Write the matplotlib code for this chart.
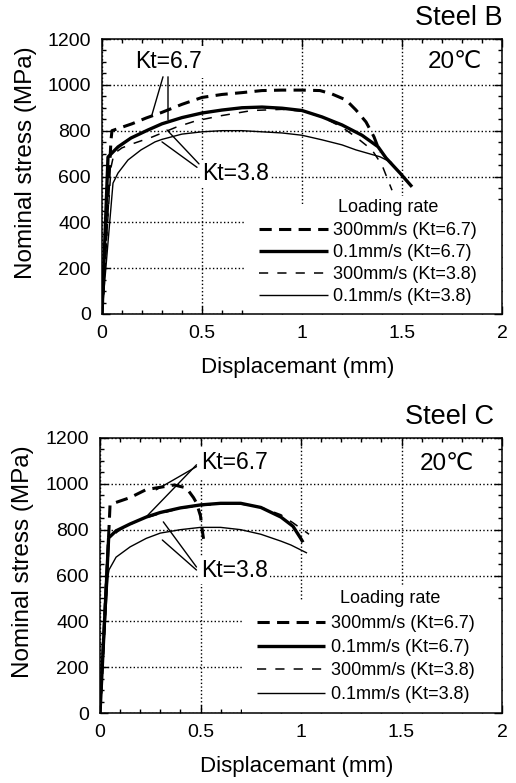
import matplotlib
matplotlib.use("Agg")
import matplotlib.pyplot as plt
from matplotlib.ticker import MultipleLocator
from matplotlib.patches import Rectangle
import numpy as np

plt.rcParams['font.family'] = ['Liberation Sans', 'DejaVu Sans']

# ---------------- data: Steel B ----------------
B_fast67_x = [0, 0.045, 0.05, 0.10, 0.15, 0.22, 0.30, 0.40, 0.50, 0.60, 0.70, 0.80, 0.90, 1.00, 1.09, 1.15, 1.22, 1.27, 1.32, 1.36, 1.39]
B_fast67_y = [0, 760, 800, 815, 830, 855, 880, 915, 945, 958, 966, 975, 977, 977, 975, 960, 934, 890, 838, 773, 705]
B_slow67_x = [0, 0.03, 0.08, 0.145, 0.23, 0.30, 0.40, 0.50, 0.60, 0.70, 0.80, 0.90, 1.00, 1.10, 1.20, 1.30, 1.38, 1.42, 1.49, 1.55]
B_slow67_y = [0, 685, 729, 768, 803, 830, 857, 877, 890, 900, 903, 898, 888, 860, 825, 780, 730, 681, 615, 555]
B_fast38_x = [0, 0.045, 0.06, 0.10, 0.16, 0.25, 0.37, 0.47, 0.60, 0.75, 0.90, 1.00, 1.10, 1.20, 1.27, 1.35, 1.40, 1.45]
B_fast38_y = [0, 640, 700, 725, 745, 772, 815, 843, 866, 888, 893, 885, 860, 815, 772, 716, 650, 540]
B_slow38_x = [0, 0.055, 0.08, 0.13, 0.195, 0.265, 0.30, 0.40, 0.50, 0.60, 0.70, 0.80, 0.90, 1.00, 1.10, 1.20, 1.27, 1.39, 1.45]
B_slow38_y = [0, 571, 615, 672, 716, 751, 762, 785, 795, 800, 800, 795, 790, 780, 760, 738, 716, 686, 660]

# ---------------- data: Steel C ----------------
C_fast67_x = [0, 0.046, 0.05, 0.10, 0.15, 0.23, 0.30, 0.37, 0.43, 0.465, 0.48, 0.50, 0.51, 0.515]
C_fast67_y = [0, 830, 910, 925, 940, 975, 985, 995, 982, 940, 917, 860, 790, 760]
C_slow67_x = [0, 0.043, 0.08, 0.15, 0.23, 0.30, 0.40, 0.50, 0.60, 0.70, 0.80, 0.90, 0.96, 1.00, 1.01]
C_slow67_y = [0, 764, 795, 825, 855, 875, 895, 908, 915, 915, 897, 855, 815, 760, 745]
C_fast38_x = [0, 0.043, 0.10, 0.20, 0.30, 0.40, 0.50, 0.60, 0.70, 0.80, 0.90, 0.96, 1.00, 1.04]
C_fast38_y = [0, 760, 800, 845, 870, 893, 905, 912, 912, 898, 865, 830, 805, 780]
C_slow38_x = [0, 0.04, 0.045, 0.08, 0.15, 0.23, 0.30, 0.40, 0.50, 0.60, 0.70, 0.80, 0.90, 0.95, 1.03]
C_slow38_y = [0, 600, 625, 680, 725, 762, 785, 800, 810, 810, 800, 780, 750, 733, 698]

legend_labels = ["300mm/s (Kt=6.7)", "0.1mm/s (Kt=6.7)", "300mm/s (Kt=3.8)", "0.1mm/s (Kt=3.8)"]
x_ticks = [0, 0.5, 1, 1.5, 2]
x_ticklabels = ["0", "0.5", "1", "1.5", "2"]
y_ticks = [0, 200, 400, 600, 800, 1000, 1200]

styles = [
    dict(color='black', lw=2.2, linestyle=(0, (4.0, 2.4))),
    dict(color='black', lw=2.4, linestyle='-'),
    dict(color='black', lw=1.1, linestyle=(0, (6.0, 6.0))),
    dict(color='black', lw=1.0, linestyle='-'),
]

fig = plt.figure(figsize=(5.16, 7.83), dpi=100)
ax1 = fig.add_axes([102/516, 1-314/783, 400/516, 275/783])
ax2 = fig.add_axes([100/516, 1-713/783, 402/516, 275/783])

panels = [
    dict(ax=ax1, name="Steel B",
         series=[(B_fast67_x, B_fast67_y), (B_slow67_x, B_slow67_y), (B_fast38_x, B_fast38_y), (B_slow38_x, B_slow38_y)],
         rect=(0.3575, 0.0, 0.6425, 0.40),
         lr_pos=(0.59, 0.389), leg_anchor=(0.393, 0.333), leg_spacing=0.27,
         k67_text=(0.165, 1100), k67_pts=[(0.25, 870), (0.33, 848)], k67_from=[(0.305, 1035), (0.33, 1035)],
         k38_text=(0.50, 615), k38_pts=[(0.30, 751), (0.325, 803)], k38_from=[(0.475, 640), (0.485, 655)],
         steel_pos=(1.0, 1.03), temp_pos=(0.95, 0.915)),
    dict(ax=ax2, name="Steel C",
         series=[(C_fast67_x, C_fast67_y), (C_slow67_x, C_slow67_y), (C_fast38_x, C_fast38_y), (C_slow38_x, C_slow38_y)],
         rect=(0.353, 0.0, 0.647, 0.41),
         lr_pos=(0.597, 0.418), leg_anchor=(0.39, 0.355), leg_spacing=0.36,
         k67_text=(0.505, 1092), k67_pts=[(0.23, 856), (0.28, 974)], k67_from=[(0.48, 1083), (0.48, 1075)],
         k38_text=(0.505, 620), k38_pts=[(0.315, 834), (0.31, 755)], k38_from=[(0.48, 637), (0.48, 624)],
         steel_pos=(0.98, 1.03), temp_pos=(0.93, 0.905)),
]

for p in panels:
    ax = p['ax']
    ax.set_xlim(0, 2)
    ax.set_ylim(0, 1200)
    ax.set_axisbelow(True)
    ax.set_xticks(x_ticks)
    ax.set_xticklabels(x_ticklabels)
    ax.set_yticks(y_ticks)
    ax.xaxis.set_minor_locator(MultipleLocator(0.1))
    ax.yaxis.set_minor_locator(MultipleLocator(50))
    ax.tick_params(which='both', direction='in', top=True, right=True, width=1.0, labelsize=14, pad=8)
    ax.tick_params(which='major', length=6)
    ax.tick_params(which='minor', length=3)
    for s in ax.spines.values():
        s.set_linewidth(1.1)
    ax.grid(True, which='major', linestyle=':', color='black', lw=1.0)
    ax.add_patch(Rectangle(p['rect'][:2], p['rect'][2], p['rect'][3], transform=ax.transAxes,
                           facecolor='white', edgecolor='none', zorder=1))
    handles = []
    for (xs, ys), st in zip(p['series'], styles):
        h, = ax.plot(xs, ys, zorder=3, solid_capstyle='butt', dash_capstyle='butt', **st)
        handles.append(h)
    ax.set_xlabel("Displacemant (mm)", fontsize=16)
    ax.set_ylabel("Nominal stress (MPa)", fontsize=17.5)
    ax.xaxis.set_label_coords(0.49, -0.155)
    ax.yaxis.set_label_coords(-0.163, 0.55)
    ax.text(*p['lr_pos'], "Loading rate", transform=ax.transAxes, fontsize=13,
            ha='left', va='center', zorder=4,
            bbox=dict(facecolor='white', edgecolor='none', pad=1.5))
    leg = ax.legend(handles, legend_labels, loc='upper left', bbox_to_anchor=p['leg_anchor'],
                    frameon=False, fontsize=13, handlelength=3.8, handletextpad=0.3,
                    labelspacing=p['leg_spacing'], borderpad=0, borderaxespad=0)
    ax.text(*p['k67_text'], "Kt=6.7", fontsize=16.5, ha='left', va='center', zorder=4,
            bbox=dict(facecolor='white', edgecolor='none', pad=3))
    ax.text(*p['k38_text'], "Kt=3.8", fontsize=16.5, ha='left', va='center', zorder=4,
            bbox=dict(facecolor='white', edgecolor='none', pad=1.5))
    for src, dst in zip(p['k67_from'], p['k67_pts']):
        ax.annotate("", xy=dst, xytext=src, arrowprops=dict(arrowstyle='-', lw=1.0, color='black',
                                                             shrinkA=0, shrinkB=0), zorder=5)
    for src, dst in zip(p['k38_from'], p['k38_pts']):
        ax.annotate("", xy=dst, xytext=src, arrowprops=dict(arrowstyle='-', lw=1.0, color='black',
                                                             shrinkA=0, shrinkB=0), zorder=5)
    ax.text(*p['steel_pos'], p['name'], transform=ax.transAxes, fontsize=19.5, ha='right', va='bottom')
    ax.text(*p['temp_pos'], "20℃", transform=ax.transAxes, fontsize=17.5, ha='right', va='center',
            family=['Liberation Sans', 'DejaVu Sans'], zorder=4,
            bbox=dict(facecolor='white', edgecolor='none', pad=2))

fig.savefig("out.png", dpi=100)
